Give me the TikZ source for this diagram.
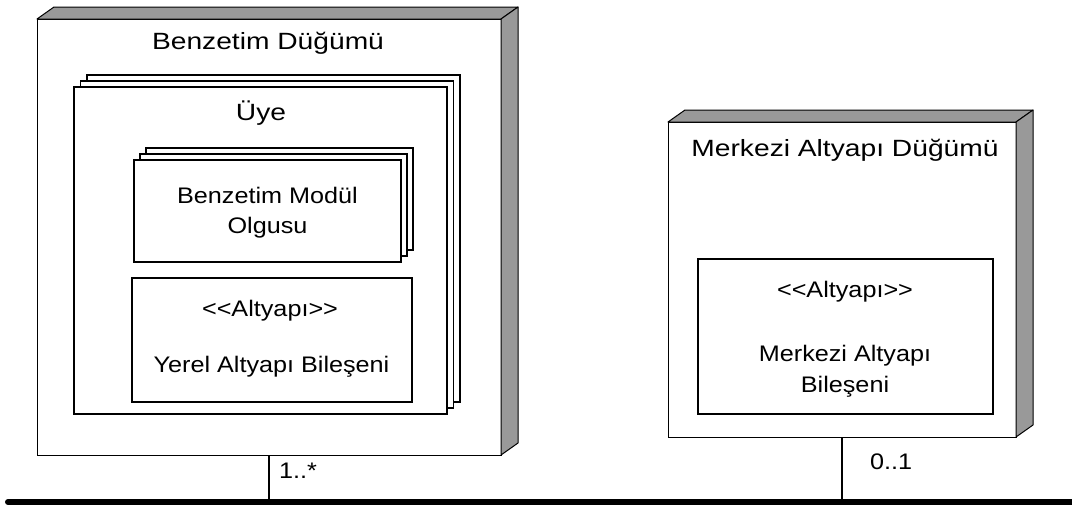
\documentclass[tikz,border=0pt]{standalone}
\usepackage{fontspec}
\setmainfont{Liberation Sans}[FakeStretch=1.12]
\newfontfamily\headfont{Liberation Sans}[FakeStretch=1.2]
\usetikzlibrary{shadows}
\definecolor{sidegray}{HTML}{999999}
\begin{document}
\begin{tikzpicture}[x=1pt,y=-1pt,
  face/.style={draw=black, line width=1pt, fill=white, anchor=north west,
    inner sep=0pt, outer sep=0pt},
  depth/.style={draw=black, line width=1pt, fill=sidegray, line join=round},
  part/.style={draw=black, line width=1.4pt, fill=white, anchor=north west,
    inner sep=0pt, outer sep=0pt},
  stackbig/.style={
    general shadow={shadow xshift=13pt, shadow yshift=12pt, draw=black, line width=1.4pt, fill=white},
    general shadow={shadow xshift=6.5pt, shadow yshift=6pt, draw=black, line width=1.4pt, fill=white}},
  stacksmall/.style={
    general shadow={shadow xshift=12pt, shadow yshift=12pt, draw=black, line width=1.4pt, fill=white},
    general shadow={shadow xshift=6pt, shadow yshift=6pt, draw=black, line width=1.4pt, fill=white}},
  txt/.style={anchor=base, inner sep=0pt, font=\fontsize{22.5}{30}\selectfont},
  head/.style={anchor=base, inner sep=0pt, font=\headfont\fontsize{23.5}{30}\selectfont},
  link/.style={draw=black, line width=1.6pt},
  bus/.style={draw=black, line width=6pt, line cap=round}
]
\useasboundingbox (0,0) rectangle (1072,507);

% bus line
\coordinate (busL) at (8,502);
\coordinate (busR) at (1080,502);
\draw[bus] (busL) -- (busR);

% node: Benzetim Düğümü
\node[face, minimum width=464pt, minimum height=436pt] (bd) at (37,19) {};
\draw[depth] (bd.north west) -- ++(17,-12) -- ++(464,0) -- ++(-17,12) -- cycle;
\draw[depth] (bd.north east) -- ++(17,-12) -- ++(0,436) -- ++(-17,12) -- cycle;
\node[head] (bdt) at (268,49) {Benzetim Düğümü};

\node[part, stackbig, minimum width=373pt, minimum height=327pt] (uye) at (74,87) {};
\node[head] (uyet) at (261,120) {Üye};

\node[part, stacksmall, minimum width=267pt, minimum height=102pt] (mod) at (134,160) {};
\node[txt] (modt1) at (267.5,203) {Benzetim Modül};
\node[txt] (modt2) at (267.5,233) {Olgusu};

\node[part, minimum width=280pt, minimum height=124pt] (yab) at (132,278) {};
\node[txt] (yabs) at (270,316) {<\kern0pt<Altyapı>\kern0pt>};
\node[txt] (yabt) at (271.5,372) {Yerel Altyapı Bileşeni};

% node: Merkezi Altyapı Düğümü
\node[face, minimum width=348pt, minimum height=315pt] (md) at (668,122) {};
\draw[depth] (md.north west) -- ++(17,-12) -- ++(348,0) -- ++(-17,12) -- cycle;
\draw[depth] (md.north east) -- ++(17,-12) -- ++(0,315) -- ++(-17,12) -- cycle;
\node[head] (mdt) at (845,156) {Merkezi Altyapı Düğümü};

\node[part, minimum width=295pt, minimum height=155pt] (mab) at (698,259) {};
\node[txt] (mabs) at (845,297.5) {<\kern0pt<Altyapı>\kern0pt>};
\node[txt] (mabt1) at (845,361) {Merkezi Altyapı};
\node[txt] (mabt2) at (845,392) {Bileşeni};

% connections to the bus
\draw[link] (bd.south) -- (bd.south |- busL);
\draw[link] (md.south) -- (md.south |- busL);
\node[txt, anchor=base west] (m1) at (279,478) {1..*};
\node[txt, anchor=base west] (m2) at (870,469) {0..1};
\end{tikzpicture}
\end{document}
